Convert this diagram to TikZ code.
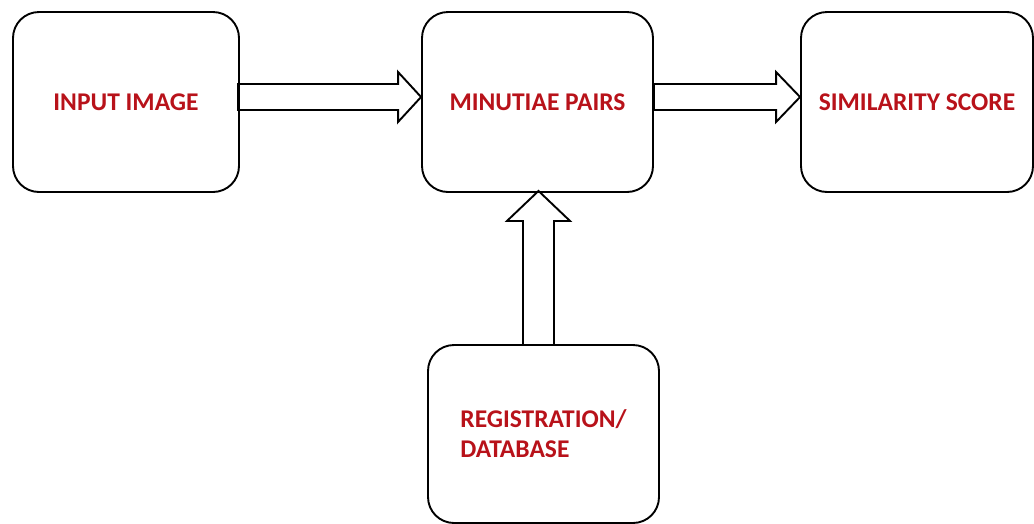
\documentclass[tikz,border=0pt]{standalone}
\usepackage{fontspec}
\setmainfont{Carlito}
\usetikzlibrary{calc}
\definecolor{rojo}{RGB}{184,18,26}
\tikzset{
  caja/.style={draw, line width=1.9pt, rounded corners=26pt, minimum height=180pt,
    text=rojo, font=\bfseries\fontsize{25.5}{30}\selectfont},
  flecha/.style={draw, line width=1.9pt, line join=miter}
}
\begin{document}
\begin{tikzpicture}[x=1pt,y=-1pt]
	\useasboundingbox (0,0) rectangle (1034,523);
	
	% Cajas
	\node[caja, minimum width=226pt] (entrada) at (126,102) {INPUT IMAGE};
	\node[caja, minimum width=231pt] (pares) at (537.5,102) {MINUTIAE PAIRS};
	\node[caja, minimum width=232pt] (score) at (917,102) {SIMILARITY SCORE};
	\node[caja, minimum width=231pt, minimum height=178pt, align=left] (base) at (543.5,434) {REGISTRATION/\\DATABASE};
	
	% Flechas horizontales
	\draw[flecha] ($(entrada.east)+(-2,-18)$) -- ($(pares.west)+(-23,-18)$) -- ($(pares.west)+(-23,-30)$)
		-- ($(pares.west)+(0,-5)$) -- ($(pares.west)+(-23,20)$) -- ($(pares.west)+(-23,8)$)
		-- ($(entrada.east)+(-2,8)$) -- cycle;
	\draw[flecha] ($(pares.east)+(0,-18)$) -- ($(score.west)+(-24,-18)$) -- ($(score.west)+(-24,-30)$)
		-- ($(score.west)+(0,-5)$) -- ($(score.west)+(-24,20)$) -- ($(score.west)+(-24,8)$)
		-- ($(pares.east)+(0,8)$) -- cycle;
	
	% Flecha vertical
	\draw[flecha] ($(pares.south |- base.north)+(-14.5,0)$) -- ($(pares.south)+(-14.5,28)$) -- ($(pares.south)+(-30.5,28)$)
		-- ($(pares.south)+(1,-2)$) -- ($(pares.south)+(32.5,28)$) -- ($(pares.south)+(16.5,28)$)
		-- ($(pares.south |- base.north)+(16.5,0)$);
	
\end{tikzpicture}
\end{document}
